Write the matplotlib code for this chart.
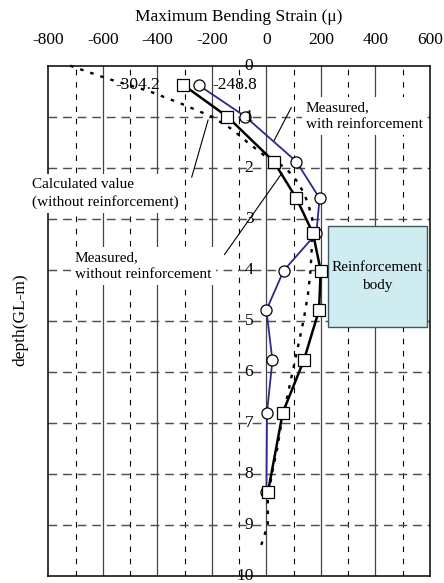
import matplotlib
matplotlib.use("Agg")
import matplotlib.pyplot as plt
from matplotlib.patches import Rectangle

plt.rcParams['font.family'] = ['Liberation Serif', 'DejaVu Serif']
plt.rcParams['axes.unicode_minus'] = False

# ---------------- data ----------------
x_ticks = [-800, -600, -400, -200, 0, 200, 400, 600]
depth_ticks = [0, 1, 2, 3, 4, 5, 6, 7, 8, 9, 10]

# Measured, without reinforcement (squares, black)
depth_meas = [0.38, 1.0, 1.88, 2.6, 3.29, 4.02, 4.79, 5.78, 6.8, 8.35]
strain_without = [-304.2, -143, 27, 110, 171, 199, 193, 137, 60, 6]

# Measured, with reinforcement (circles, blue)
strain_with = [-248.8, -77, 110, 195, 183, 63, 0, 22, 2, 0]

# Calculated value (without reinforcement), dotted
depth_calc = [0.0, 0.25, 0.5, 0.75, 1.0, 1.25, 1.5, 1.75, 2.0, 2.25, 2.5, 2.75,
              3.0, 3.5, 4.0, 4.5, 5.0, 5.5, 6.0, 6.5, 7.0, 7.5, 8.0, 8.5, 9.0, 9.5]
strain_calc = [-720, -585, -430, -310, -200, -125, -70, -10, 70, 110, 138, 155,
               168, 167, 162, 152, 136, 116, 96, 76, 55, 40, 20, 5, 5, -25]

# reinforcement body extent (depth, m)
reinf_top, reinf_bottom = 3.14, 5.13

# ---------------- figure ----------------
fig = plt.figure(figsize=(4.44, 5.83), dpi=100)
ax = fig.add_axes([0.1088, 0.0125, 0.8597, 0.8748])
ax.set_xlim(-800, 600)
ax.set_ylim(10, 0)

# grid
for v in range(-700, 600, 100):
    if v % 200 == 0:
        ax.axvline(v, color='#444444', lw=0.9, zorder=1)
    else:
        ax.axvline(v, color='black', lw=0.8, ls=(0, (5, 6)), zorder=1)
for d in depth_ticks[1:-1]:
    ax.axhline(d, color='#505050', lw=1.05, ls=(0, (6, 4)), zorder=1)

# x ticks on top
ax.xaxis.tick_top()
ax.set_xticks(x_ticks)
ax.set_xticklabels([str(v) for v in x_ticks], fontsize=12.5)
ax.tick_params(axis='x', length=0, pad=13)
ax.set_yticks([])
for s in ax.spines.values():
    s.set_linewidth(1.1)
    s.set_zorder(2)

fig.text(0.5383, 1 - 16.7 / 583, 'Maximum Bending Strain (μ)', ha='center', va='center',
         fontsize=12.5)
fig.text(20 / 444, 1 - 320 / 583, 'depth(GL-m)', rotation=90, ha='center', va='center',
         fontsize=12.5)

# depth labels inside
for d in depth_ticks:
    ax.text(-48, d, str(d), ha='right', va='center', fontsize=12.5, zorder=6,
            clip_on=False)

# reinforcement body
ax.add_patch(Rectangle((226, reinf_top), 362, reinf_bottom - reinf_top,
                       facecolor='#cfecf1', edgecolor='#3e5a60', lw=1.0, zorder=3))
ax.text(407, (reinf_top + reinf_bottom) / 2, 'Reinforcement\nbody', ha='center',
        va='center', fontsize=11, linespacing=1.45, zorder=4)

# data lines
ax.plot(strain_calc, depth_calc, color='black', lw=1.7, ls=(0, (1.5, 3)), zorder=4,
        clip_on=False)
ax.plot(strain_with, depth_meas, color='#2a2a8c', lw=1.3, marker='o', ms=8,
        mfc='white', mec='black', mew=0.9, zorder=5)
ax.plot(strain_without, depth_meas, color='black', lw=1.8, marker='s', ms=8,
        mfc='white', mec='black', mew=0.9, zorder=5)

# value labels
ax.annotate(f'{strain_without[0]}', (strain_without[0], depth_meas[0]),
            xytext=(-17, 0), textcoords='offset points', ha='right', va='center',
            fontsize=12.5, zorder=6)
ax.annotate(f'{strain_with[0]}', (strain_with[0], depth_meas[0]),
            xytext=(10, 0), textcoords='offset points', ha='left', va='center',
            fontsize=12.5, zorder=6)

# annotations with white background and leader lines
bbox = dict(facecolor='white', edgecolor='none', pad=3)
ax.text(-860, 2.5, 'Calculated value\n(without reinforcement)', ha='left', va='center',
        fontsize=11, linespacing=1.4, bbox=bbox, zorder=3, clip_on=False)
ax.annotate('', xy=(-211, 1.01), xytext=(-277, 2.24),
            arrowprops=dict(arrowstyle='-', color='black', lw=0.8), zorder=4)

ax.text(144, 0.99, 'Measured,\nwith reinforcement', ha='left', va='center',
        fontsize=11, linespacing=1.4, bbox=bbox, zorder=3)
ax.annotate('', xy=(96, 0.77), xytext=(23, 1.52),
            arrowprops=dict(arrowstyle='-', color='black', lw=0.8), zorder=4)

ax.text(-702, 3.93, 'Measured,\nwithout reinforcement', ha='left', va='center',
        fontsize=11, linespacing=1.4, bbox=bbox, zorder=3)
ax.annotate('', xy=(63, 2.06), xytext=(-160, 3.75),
            arrowprops=dict(arrowstyle='-', color='black', lw=0.8), zorder=4)

fig.savefig('out.png', dpi=100)
